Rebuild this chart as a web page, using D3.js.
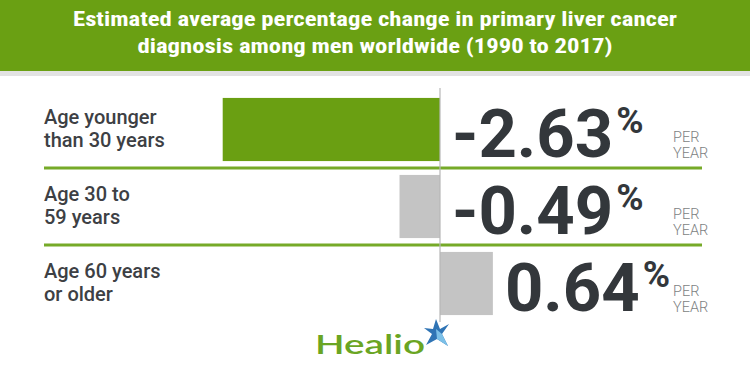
<!DOCTYPE html>
<html>
<head>
<meta charset="utf-8">
<script src="https://cdn.jsdelivr.net/npm/d3@7"></script>
<style>
  body { margin: 0; background: #fff; }
  svg { display: block; }
</style>
</head>
<body>
<script>
var titleLines = ["Estimated average percentage change in primary liver cancer",
                  "diagnosis among men worldwide (1990 to 2017)"];
var groups = ["Age younger than 30 years", "Age 30 to 59 years", "Age 60 years or older"];
var groupLines = [["Age younger", "than 30 years"], ["Age 30 to", "59 years"], ["Age 60 years", "or older"]];
var changes = [-2.63, -0.49, 0.64];
var labels = ["-2.63", "-0.49", "0.64"];

var width = 750;
var height = 375;

var svg = d3.select("body").append("svg")
            .attr("width", width)
            .attr("height", height);

// header band
svg.append("rect").attr("x", 0).attr("y", 0).attr("width", width).attr("height", 71)
    .attr("fill", "#6aa013");
svg.append("rect").attr("x", 0).attr("y", 71).attr("width", width).attr("height", 5)
    .attr("fill", "#e2e2e2");

var titleWidths = [604, 475];
svg.selectAll(".title")
    .data(titleLines)
    .enter().append("text")
    .attr("class", "title")
    .attr("x", width / 2)
    .attr("y", function(d, i) { return 26 + i * 27; })
    .attr("text-anchor", "middle")
    .attr("textLength", function(d, i) { return titleWidths[i]; })
    .attr("lengthAdjust", "spacingAndGlyphs")
    .style("font-family", "'Roboto Condensed', 'Liberation Sans Narrow', Roboto, sans-serif")
    .style("font-weight", "bold")
    .style("font-size", "21px")
    .attr("fill", "#fff")
    .text(function(d) { return d; });

// scales
var x = d3.scaleLinear()
            .domain([-2.63, 0])
            .range([222.7, 440]);

var y = d3.scaleBand()
            .domain(groups)
            .range([91, 322])
            .paddingInner(0.18)
            .paddingOuter(0.09);

var color = function(v) { return v < -1 ? "#6a9f12" : "#c4c4c4"; };

// separators between rows
var seps = groups.slice(1);
svg.selectAll(".sep")
    .data(seps)
    .enter().append("line")
    .attr("class", "sep")
    .attr("x1", 44)
    .attr("x2", 702)
    .attr("y1", function(d) { return y(d) - (y.step() - y.bandwidth()) / 2; })
    .attr("y2", function(d) { return y(d) - (y.step() - y.bandwidth()) / 2; })
    .attr("stroke", "#76aa28")
    .attr("stroke-width", 3);

// bars
svg.selectAll(".bar")
    .data(changes)
    .enter().append("rect")
    .attr("class", "bar")
    .attr("x", function(d) { return Math.min(x(d), x(0)); })
    .attr("y", function(d, i) { return y(groups[i]); })
    .attr("width", function(d) { return Math.abs(x(d) - x(0)); })
    .attr("height", y.bandwidth())
    .attr("fill", color);

// zero line
svg.append("line")
    .attr("x1", x(0)).attr("x2", x(0))
    .attr("y1", 88).attr("y2", 322)
    .attr("stroke", "#b8b8b8")
    .attr("stroke-width", 1.2);

// group labels
var rowG = svg.selectAll(".row")
    .data(groups)
    .enter().append("g")
    .attr("class", "row")
    .attr("transform", function(d) { return "translate(0," + (y(d) + y.bandwidth() / 2) + ")"; });

rowG.append("text")
    .attr("x", 44)
    .style("font-family", "Roboto, sans-serif")
    .style("font-size", "20px")
    .style("font-weight", 500)
    .attr("fill", "#3d4044")
    .selectAll("tspan")
    .data(function(d, i) { return groupLines[i]; })
    .enter().append("tspan")
    .attr("x", 44)
    .attr("y", function(d, j) { return -6 + j * 23; })
    .text(function(d) { return d; });

// big values
var val = rowG.append("text")
    .attr("x", function(d, i) { return Math.max(x(changes[i]), x(0)) + 12; })
    .attr("y", 27)
    .style("font-family", "Roboto, sans-serif")
    .style("font-weight", "bold")
    .attr("fill", "#33373b");

val.append("tspan")
    .style("font-size", "67px")
    .text(function(d, i) { return labels[i]; });

val.append("tspan")
    .attr("dx", 3)
    .attr("dy", -24)
    .style("font-size", "37px")
    .text("%");

// per year, one text each so the lines stay apart
var perYear = ["PER", "YEAR"];
perYear.forEach(function(w, j) {
    rowG.append("text")
        .attr("x", 673)
        .attr("y", 12 + j * 16)
        .style("font-family", "Roboto, sans-serif")
        .style("font-size", "14.5px")
        .style("font-weight", 300)
        .attr("fill", "#7d7f82")
        .text(w);
});

// logo
svg.append("text")
    .attr("x", 315)
    .attr("y", 354)
    .attr("textLength", 110)
    .attr("lengthAdjust", "spacingAndGlyphs")
    .style("font-family", "Lato, Roboto, sans-serif")
    .style("font-size", "27px")
    .style("font-weight", 600)
    .attr("fill", "#6aa523")
    .text("Healio");

var star = svg.append("g").attr("transform", "translate(436,333)");
star.append("path")
    .attr("d", "M0,-14 L4,-4 L13,-9 L6,1 L12,13 L1,6 L-10,12 L-4,1 L-12,-5 L-3,-4 Z")
    .attr("fill", "#2f74b5");
star.append("path")
    .attr("d", "M0,-4 L6,1 L12,13 L1,6 Z")
    .attr("fill", "#7cc0e8");
</script>
</body>
</html>
